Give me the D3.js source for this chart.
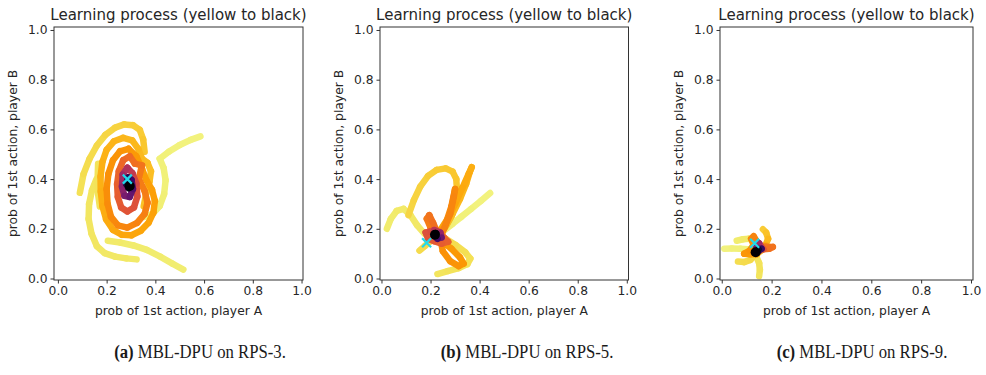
<!DOCTYPE html>
<html>
<head>
<meta charset="utf-8">
<script src="https://cdn.jsdelivr.net/npm/d3@7"></script>
<style>
  body { margin: 0; background: #fff; }
  svg { display: block; }
  .ax text { font-family: "DejaVu Sans", sans-serif; fill: #262626; }
  .cap { font-family: "Liberation Serif", serif; fill: #1a1a1a; }
</style>
</head>
<body>
<svg id="chart" width="986" height="375"></svg>
<script>
// Tick values shared by both axes of every panel
const tickValues = [0, 0.2, 0.4, 0.6, 0.8, 1.0];
const titleText = "Learning process (yellow to black)";
const xLabelText = "prob of 1st action, player A";
const yLabelText = "prob of 1st action, player B";
const captionTags = ["(a)", "(b)", "(c)"];
const captionTexts = [" MBL-DPU on RPS-3.", " MBL-DPU on RPS-5.", " MBL-DPU on RPS-9."];

// Equilibrium strategy (cyan cross) per game
const equilibria = [[0.285, 0.400], [0.184, 0.144], [0.132, 0.142]];

// Learning trajectories in time order; null splits the trail into pieces
const rps3Trail = [
  [0.585,0.572],[0.545,0.558],[0.500,0.537],[0.455,0.510],[0.418,0.482],[0.434,0.445],[0.442,0.395],[0.436,0.340],[0.418,0.292],[0.390,0.262],[0.358,0.248],
  null,
  [0.515,0.036],[0.470,0.060],[0.420,0.088],[0.365,0.115],[0.310,0.133],[0.255,0.145],[0.205,0.152],
  null,
  [0.323,0.077],[0.280,0.081],[0.235,0.088],[0.192,0.102],[0.160,0.130],[0.138,0.180],[0.126,0.240],[0.128,0.300],[0.140,0.355],[0.158,0.400],
  null,
  [0.165,0.462],[0.163,0.400],[0.165,0.340],[0.172,0.290],
  null,
  [0.090,0.345],[0.105,0.420],[0.130,0.482],[0.160,0.535],[0.195,0.578],[0.235,0.607],[0.272,0.620],[0.308,0.617],[0.336,0.598],[0.350,0.560],[0.356,0.510],
  null,
  [0.352,0.290],[0.362,0.340],[0.376,0.390],[0.382,0.432],[0.368,0.465],[0.345,0.482],
  [0.330,0.522],[0.305,0.556],[0.268,0.566],[0.230,0.552],[0.200,0.518],[0.183,0.470],[0.175,0.410],[0.176,0.350],[0.183,0.290],[0.198,0.238],[0.226,0.196],[0.262,0.176],[0.302,0.174],[0.340,0.192],[0.372,0.224],[0.392,0.265],[0.398,0.312],[0.386,0.358],[0.362,0.398],
  [0.345,0.442],[0.322,0.492],[0.290,0.522],[0.255,0.512],[0.226,0.476],[0.207,0.420],[0.200,0.360],[0.204,0.300],[0.218,0.248],[0.246,0.214],[0.285,0.205],[0.325,0.224],[0.356,0.260],[0.368,0.305],[0.356,0.352],
  [0.332,0.402],[0.345,0.455],[0.316,0.462],[0.295,0.492],[0.268,0.476],[0.250,0.432],[0.243,0.380],[0.246,0.328],[0.260,0.286],[0.285,0.270],[0.312,0.286],[0.326,0.330],[0.322,0.382],
  [0.306,0.424],[0.285,0.446],[0.266,0.418],[0.263,0.370],[0.273,0.333],[0.295,0.328],[0.308,0.360],[0.302,0.397],[0.288,0.407],[0.281,0.380],[0.290,0.364],[0.296,0.375],[0.295,0.372]
];

const rps5Trail = [
  [0.443,0.344],[0.405,0.312],[0.365,0.280],[0.325,0.248],[0.290,0.220],[0.258,0.196],
  null,
  [0.022,0.200],[0.038,0.240],[0.062,0.272],[0.090,0.280],[0.118,0.255],[0.145,0.215],[0.175,0.180],
  null,
  [0.228,0.018],[0.270,0.030],[0.315,0.042],[0.350,0.058],[0.362,0.080],[0.342,0.105],[0.302,0.135],[0.262,0.160],
  null,
  [0.155,0.112],[0.178,0.132],[0.205,0.155],
  null,
  [0.110,0.255],[0.132,0.315],[0.158,0.370],[0.190,0.413],[0.225,0.437],[0.262,0.443],[0.290,0.430],[0.305,0.400],[0.308,0.350],[0.300,0.300],[0.285,0.250],[0.262,0.210],
  [0.290,0.260],[0.320,0.320],[0.345,0.380],[0.360,0.428],[0.368,0.448],[0.355,0.420],[0.330,0.365],[0.300,0.300],[0.270,0.240],[0.240,0.195],[0.220,0.170],
  [0.245,0.150],[0.285,0.120],[0.320,0.085],[0.335,0.060],[0.315,0.050],[0.280,0.070],[0.250,0.110],[0.240,0.160],[0.262,0.220],[0.285,0.290],[0.300,0.360],[0.295,0.330],[0.280,0.260],[0.255,0.200],[0.230,0.175],
  [0.200,0.205],[0.185,0.240],[0.195,0.255],[0.210,0.225],[0.225,0.190],[0.255,0.165],[0.272,0.148],[0.245,0.140],[0.215,0.150],[0.190,0.160],[0.180,0.185],[0.200,0.190],
  [0.215,0.195],[0.240,0.185],[0.245,0.165],[0.228,0.160],[0.215,0.172],[0.222,0.182],[0.218,0.176]
];

const rps9Trail = [
  [0.010,0.120],[0.040,0.121],[0.075,0.120],[0.105,0.118],
  null,
  [0.060,0.152],[0.085,0.158],[0.110,0.160],[0.130,0.150],
  null,
  [0.150,0.010],[0.153,0.035],[0.150,0.062],[0.140,0.085],
  null,
  [0.065,0.068],[0.090,0.066],[0.115,0.075],[0.130,0.092],
  null,
  [0.165,0.198],[0.178,0.185],[0.186,0.160],[0.176,0.135],[0.160,0.115],
  [0.140,0.098],[0.115,0.098],[0.090,0.100],[0.112,0.112],[0.128,0.135],[0.118,0.160],[0.128,0.170],[0.140,0.150],[0.150,0.130],[0.175,0.128],[0.205,0.127],[0.190,0.120],[0.168,0.118],
  [0.158,0.128],[0.150,0.142],[0.140,0.125],[0.150,0.112],[0.160,0.120],[0.148,0.118],[0.140,0.110],[0.136,0.106]
];

const trails = [rps3Trail, rps5Trail, rps9Trail];

// Panel geometry: frame edges, axis limits and time-to-colour stops
const panels = [
  { left: 54,  right: 303, xlim: [-0.016, 1.006], capX: 200,
    fracStops: [0, 0.32, 0.42, 0.48, 0.65, 0.78, 0.89, 1], tStops: [0.96, 0.92, 0.86, 0.84, 0.78, 0.71, 0.58, 0] },
  { left: 380, right: 628.5, xlim: [-0.006, 1.007], capX: 527,
    fracStops: [0, 0.33, 0.48, 0.61, 0.79, 0.93, 1], tStops: [0.96, 0.9, 0.84, 0.78, 0.72, 0.58, 0] },
  { left: 720, right: 973, xlim: [-0.007, 1.008], capX: 862,
    fracStops: [0, 0.43, 0.54, 0.82, 1], tStops: [0.96, 0.9, 0.8, 0.68, 0] }
];
const frameTop = 27, frameBottom = 280, ylim = [-0.006, 1.012];

const svg = d3.select("#chart");
const fmt = d3.format(".1f");

panels.forEach((p, k) => {
  const x = d3.scaleLinear().domain(p.xlim).range([p.left, p.right]);
  const y = d3.scaleLinear().domain(ylim).range([frameBottom, frameTop]);
  const g = svg.append("g").attr("class", "ax");

  // trail segments, coloured by elapsed time along the inferno map
  const pts = trails[k];
  const n = pts.length;
  const tOf = d3.scaleLinear().domain(p.fracStops).range(p.tStops).clamp(true);
  const segs = [];
  for (let i = 0; i < n - 1; i++) {
    if (pts[i] && pts[i + 1]) segs.push({ a: pts[i], b: pts[i + 1], f: i / (n - 2) });
  }
  g.append("g").selectAll("line").data(segs).join("line")
    .attr("x1", d => x(d.a[0])).attr("y1", d => y(d.a[1]))
    .attr("x2", d => x(d.b[0])).attr("y2", d => y(d.b[1]))
    .attr("stroke", d => d3.interpolateInferno(tOf(d.f)))
    .attr("stroke-width", 6.5)
    .attr("stroke-linecap", "round")
    .attr("stroke-linejoin", "round");

  // final state
  const last = pts[n - 1];
  g.append("circle").attr("cx", x(last[0])).attr("cy", y(last[1])).attr("r", 5)
    .attr("fill", d3.interpolateInferno(0));

  // equilibrium cross
  const eq = equilibria[k];
  const ex = x(eq[0]), ey = y(eq[1]), s = 4.5;
  g.append("path")
    .attr("d", `M${ex - s},${ey - s}L${ex + s},${ey + s}M${ex - s},${ey + s}L${ex + s},${ey - s}`)
    .attr("stroke", "#22d8ea").attr("stroke-width", 2.2).attr("fill", "none");

  // frame
  g.append("rect").attr("x", p.left).attr("y", frameTop)
    .attr("width", p.right - p.left).attr("height", frameBottom - frameTop)
    .attr("fill", "none").attr("stroke", "#333").attr("stroke-width", 1);

  // axes
  const xa = g.append("g").attr("transform", `translate(0,${frameBottom})`)
    .call(d3.axisBottom(x).tickValues(tickValues).tickFormat(fmt).tickSize(3.5).tickPadding(3));
  const ya = g.append("g").attr("transform", `translate(${p.left},0)`)
    .call(d3.axisLeft(y).tickValues(tickValues).tickFormat(fmt).tickSize(3.5).tickPadding(3));
  [xa, ya].forEach(a => {
    a.select(".domain").remove();
    a.selectAll("line").attr("stroke", "#333");
    a.selectAll("text").attr("font-size", 12.3).attr("fill", "#262626");
  });

  const cx = (p.left + p.right) / 2;
  g.append("text").attr("x", cx).attr("y", 20).attr("text-anchor", "middle")
    .attr("font-size", 15).text(titleText);
  g.append("text").attr("x", cx).attr("y", 315).attr("text-anchor", "middle")
    .attr("font-size", 12.3).text(xLabelText);
  g.append("text").attr("transform", `translate(${p.left - 37},${(frameTop + frameBottom) / 2}) rotate(-90)`)
    .attr("text-anchor", "middle").attr("font-size", 12.3).text(yLabelText);

  // subfigure caption, set slightly condensed
  const cap = svg.append("text").attr("class", "cap")
    .attr("transform", `translate(${p.capX},358) scale(0.88,1)`)
    .attr("text-anchor", "middle").attr("font-size", 19);
  cap.append("tspan").attr("font-weight", "bold").text(captionTags[k]);
  cap.append("tspan").text(captionTexts[k]);
});
</script>
</body>
</html>
